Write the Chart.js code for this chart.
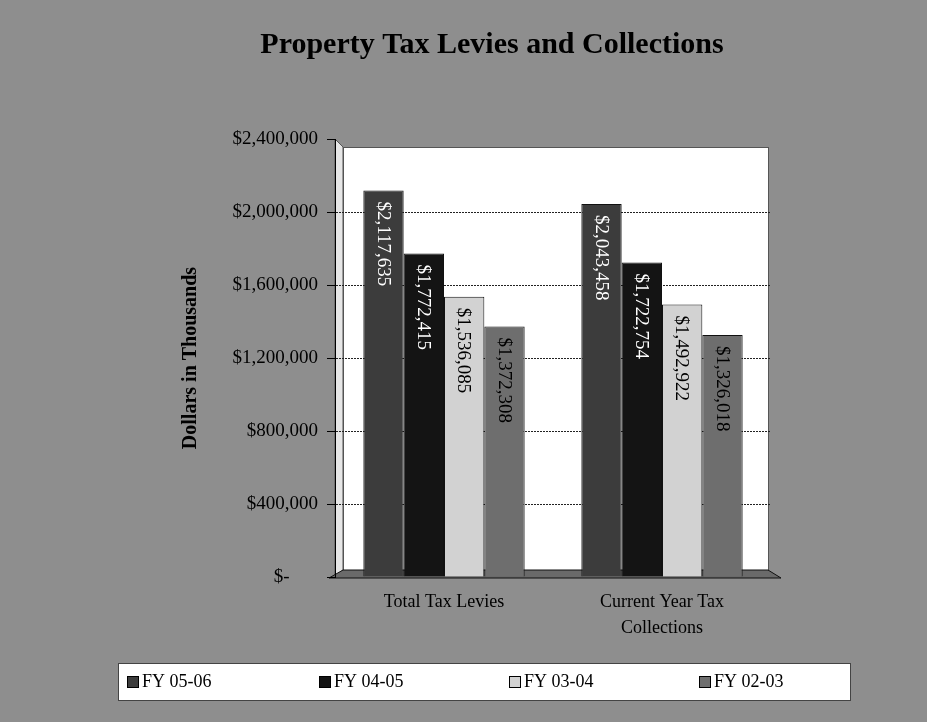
<!DOCTYPE html>
<html>
<head>
<meta charset="utf-8">
<title>Property Tax Levies and Collections</title>
<script src="https://cdn.jsdelivr.net/npm/chart.js@4.4.1/dist/chart.umd.min.js"></script>
<style>
  html, body { margin: 0; padding: 0; background: #8e8e8e; }
  #wrap { width: 927px; height: 722px; }
</style>
</head>
<body>
<div id="wrap"><canvas id="levies" width="927" height="722"></canvas></div>
<script>
// categories and series
const chartTitle = 'Property Tax Levies and Collections';
const categories = ['Total Tax Levies', ['Current Year Tax', 'Collections']];
const seriesNames = ['FY 05-06', 'FY 04-05', 'FY 03-04', 'FY 02-03'];
const fy0506 = [2117635, 2043458];
const fy0405 = [1772415, 1722754];
const fy0304 = [1536085, 1492922];
const fy0203 = [1372308, 1326018];
const yTicks = [0, 400000, 800000, 1200000, 1600000, 2000000, 2400000];

const barColors = ['#3c3c3c', '#141414', '#d2d2d2', '#6e6e6e'];
const labelColors = ['#ffffff', '#ffffff', '#000000', '#000000'];
const serif = "'Liberation Serif', 'Times New Roman', serif";

const money = v => v === 0 ? '$-\u2007\u2007\u2007' : '$' + v.toLocaleString('en-US');

// grey backdrop, title, 3D walls and floor behind the bars
const walls = {
  id: 'walls',
  beforeDraw(chart) {
    const { ctx, chartArea: a } = chart;
    ctx.save();
    ctx.fillStyle = '#8e8e8e';
    ctx.fillRect(0, 0, chart.width, chart.height);

    ctx.fillStyle = '#000';
    ctx.font = 'bold 30px ' + serif;
    ctx.textAlign = 'center';
    ctx.textBaseline = 'middle';
    ctx.fillText(chartTitle, 492, 45);

    // back wall
    ctx.fillStyle = '#ffffff';
    ctx.fillRect(a.left + 8, a.top + 8, a.right - a.left - 11, a.bottom - a.top - 15);
    ctx.strokeStyle = '#555';
    ctx.lineWidth = 1;
    ctx.strokeRect(a.left + 8.5, a.top + 8.5, a.right - a.left - 11, a.bottom - a.top - 15);

    // side wall
    ctx.beginPath();
    ctx.moveTo(a.left, a.top);
    ctx.lineTo(a.left + 8, a.top + 8);
    ctx.lineTo(a.left + 8, a.bottom - 7);
    ctx.lineTo(a.left, a.bottom);
    ctx.closePath();
    ctx.fillStyle = '#e6e6e6';
    ctx.fill();
    ctx.stroke();

    // floor
    ctx.beginPath();
    ctx.moveTo(a.left - 6, a.bottom + 1);
    ctx.lineTo(a.left + 8, a.bottom - 7);
    ctx.lineTo(a.right - 3, a.bottom - 7);
    ctx.lineTo(a.right + 10, a.bottom + 1);
    ctx.closePath();
    ctx.fillStyle = '#6a6a6a';
    ctx.fill();
    ctx.strokeStyle = '#111';
    ctx.stroke();
    ctx.restore();
  }
};

// values written down the bars
const barLabels = {
  id: 'barLabels',
  afterDatasetsDraw(chart) {
    const { ctx } = chart;
    chart.data.datasets.forEach((ds, i) => {
      chart.getDatasetMeta(i).data.forEach((bar, j) => {
        ctx.save();
        ctx.translate(bar.x, bar.y + 11);
        ctx.rotate(Math.PI / 2);
        ctx.font = '19px ' + serif;
        ctx.fillStyle = labelColors[i];
        ctx.textAlign = 'left';
        ctx.textBaseline = 'middle';
        ctx.fillText(money(ds.data[j]), 0, 1);
        ctx.restore();
      });
    });
  }
};

// boxed legend along the bottom
const boxLegend = {
  id: 'boxLegend',
  afterDraw(chart) {
    const { ctx } = chart;
    const itemX = [127, 319, 509, 699];
    ctx.save();
    ctx.fillStyle = '#ffffff';
    ctx.fillRect(118, 663, 732, 37);
    ctx.strokeStyle = '#444';
    ctx.lineWidth = 1;
    ctx.strokeRect(118.5, 663.5, 732, 37);
    ctx.font = '18px ' + serif;
    ctx.textBaseline = 'middle';
    ctx.textAlign = 'left';
    seriesNames.forEach((name, i) => {
      ctx.fillStyle = barColors[i];
      ctx.fillRect(itemX[i], 676, 12, 12);
      ctx.strokeStyle = '#000';
      ctx.strokeRect(itemX[i] + 0.5, 676.5, 11, 11);
      ctx.fillStyle = '#000';
      ctx.fillText(name, itemX[i] + 15, 682);
    });
    ctx.restore();
  }
};

new Chart(document.getElementById('levies'), {
  type: 'bar',
  plugins: [walls, barLabels, boxLegend],
  data: {
    labels: categories,
    datasets: [fy0506, fy0405, fy0304, fy0203].map((values, i) => ({
      label: seriesNames[i],
      data: values,
      backgroundColor: barColors[i],
      borderColor: '#111',
      borderWidth: 1,
      categoryPercentage: 0.74,
      barPercentage: 1
    }))
  },
  options: {
    responsive: false,
    animation: false,
    layout: { padding: { left: 175, right: 156, top: 139, bottom: 59 } },
    plugins: {
      legend: { display: false },
      tooltip: { enabled: false },
      title: { display: false }
    },
    scales: {
      x: {
        grid: { display: false, drawTicks: false },
        border: { display: false },
        ticks: {
          color: '#000',
          padding: 12,
          maxRotation: 0,
          font: { family: serif, size: 18, lineHeight: 1.45 }
        },
        afterFit(scale) { scale.height = 86; }
      },
      y: {
        min: 0,
        max: 2400000,
        afterBuildTicks(scale) { scale.ticks = yTicks.map(v => ({ value: v })); },
        afterFit(scale) { scale.width = 160; },
        grid: {
          color: ctx => ctx.tick && (ctx.tick.value === 0 || ctx.tick.value === 2400000) ? 'rgba(0,0,0,0)' : '#222',
          tickColor: '#000',
          tickLength: 8
        },
        border: { display: true, color: '#000', width: 1, dash: [2, 1] },
        ticks: {
          color: '#000',
          padding: 9,
          font: { family: serif, size: 19 },
          callback: v => money(v)
        },
        title: {
          display: true,
          text: 'Dollars in Thousands',
          color: '#000',
          font: { family: serif, size: 20, weight: 'bold' }
        }
      }
    }
  }
});
</script>
</body>
</html>
